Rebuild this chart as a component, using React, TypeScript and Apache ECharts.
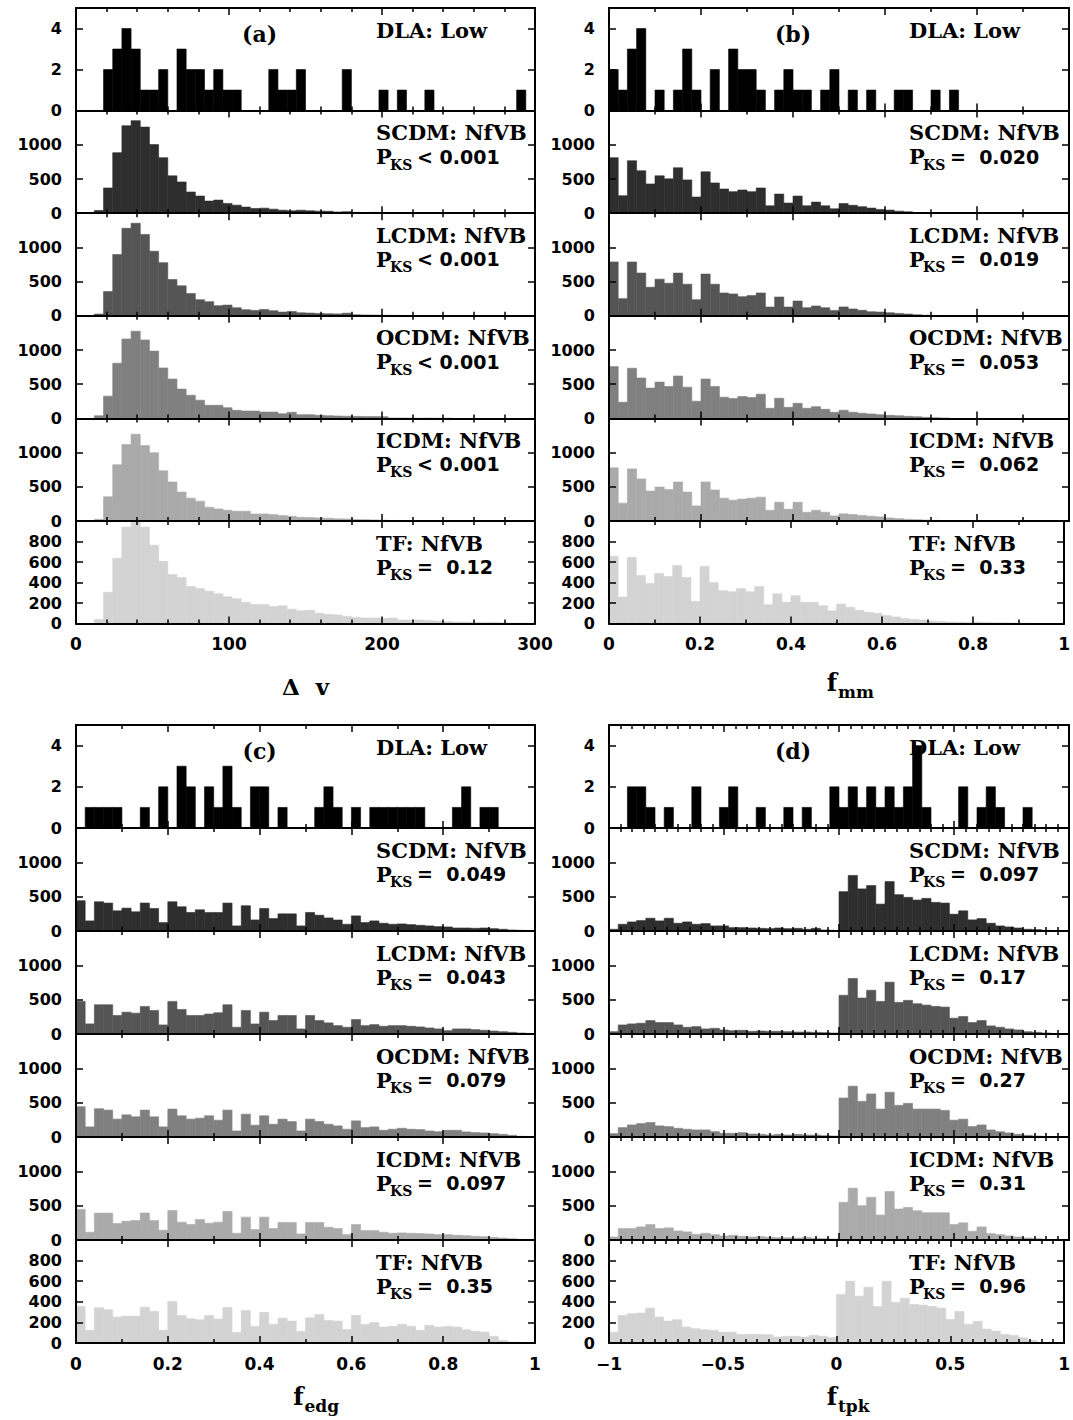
import React, { useEffect, useRef } from "react";
import * as echarts from "echarts";

// ---------- labels & styling lists ----------
const modelNames = ["DLA: Low", "SCDM: NfVB", "LCDM: NfVB", "OCDM: NfVB", "ICDM: NfVB", "TF: NfVB"];
const fillColors = ["#000000", "#2e2e2e", "#555555", "#808080", "#aaaaaa", "#d3d3d3"];
const yMaxes = [5, 1500, 1500, 1500, 1500, 1000];
const yIntervals = [2, 500, 500, 500, 500, 200];

// ---------- panel (a): Delta v, 50 bins of 6 km/s over 0..300 ----------
const dvDLA = [0,0,0,2,3,4,3,1,1,2, 0,3,2,2,1,2,1,1,0,0, 0,2,1,1,2,0,0,0,0,2, 0,0,0,1,0,1,0,0,1,0, 0,0,0,0,0,0,0,0,1,0];
const dvSCDM = [0,0,40,369,885,1279,1353,1259,1003,812, 546,457,310,251,177,192,143,118,89,69, 74,59,44,34,44,35,30,28,18,22, 12,10,12,6,5,4,3,3,2,2, 1,1,1,0,0,0,0,0,0,0];
const dvLCDM = [0,0,25,354,895,1279,1353,1190,944,777, 531,438,325,236,207,148,157,118,89,79, 93,74,54,64,44,40,35,30,28,38, 15,12,10,8,6,5,4,3,2,2, 1,1,0,0,0,0,0,0,0,0];
const dvOCDM = [0,0,39,325,807,1161,1274,1146,984,738, 576,428,339,266,192,192,157,118,108,108, 93,93,69,89,54,55,45,40,35,32, 30,28,26,25,5,4,3,2,2,1, 1,0,0,0,0,0,0,0,0,0];
const dvICDM = [0,0,25,354,821,1117,1269,1102,999,733, 571,423,334,290,202,177,157,143,143,103, 103,93,79,69,54,50,45,40,32,30, 22,20,16,12,8,6,5,4,3,2, 2,1,1,0,0,0,0,0,0,0];
const dvTF = [0,0,39,305,636,941,997,941,764,607, 479,449,361,341,315,292,262,243,207,187, 187,167,174,141,125,130,100,90,85,70, 60,55,55,50,55,35,35,35,30,25, 20,15,15,10,10,12,8,5,5,3];
const dvPKS = ["< 0.001", "< 0.001", "< 0.001", "< 0.001", "=  0.12"];

// ---------- panel (b): f_mm, 50 bins of 0.02 over 0..1 ----------
const mmDLA = [2,1,3,4,0,1,0,1,3,1, 0,2,0,3,2,2,1,0,1,2, 1,1,0,1,2,0,1,0,1,0, 0,1,1,0,0,1,0,1,0,0, 0,0,0,0,0,0,0,0,0,0];
const mmSCDM = [812,256,767,620,428,546,502,664,487,236, 605,443,354,315,339,315,369,108,280,148, 251,108,162,108,64,140,115,95,75,55, 45,30,20,10,5,3,0,0,0,0, 0,0,0,0,0,0,0,0,0,0];
const mmLCDM = [787,251,787,625,418,536,477,625,462,236, 610,462,334,320,280,295,334,128,275,128, 216,118,143,118,79,130,100,80,60,55, 45,35,25,15,8,5,3,0,0,0, 0,0,0,0,0,0,0,0,0,0];
const mmOCDM = [757,236,733,590,443,531,467,620,457,251, 576,467,310,290,320,305,354,148,295,162, 221,148,172,133,89,120,90,75,65,55, 45,40,30,25,15,10,5,0,0,0, 0,0,0,0,0,0,0,0,0,0];
const mmICDM = [777,261,762,615,438,497,462,571,423,221, 571,453,334,305,320,334,349,157,275,172, 275,128,157,128,74,105,95,80,70,60, 45,35,25,20,15,10,5,0,0,0, 0,0,0,0,0,0,0,0,0,0];
const mmTF = [656,259,646,469,390,489,459,567,449,216, 557,400,321,311,341,311,361,184,292,207, 272,207,207,174,125,190,160,130,110,100, 80,65,50,40,35,25,20,15,12,10, 15,10,8,8,5,5,3,2,2,0];
const mmPKS = ["=  0.020", "=  0.019", "=  0.053", "=  0.062", "=  0.33"];

// ---------- panel (c): f_edg, 50 bins of 0.02 over 0..1 ----------
const edgDLA = [0,1,1,1,1,0,0,1,0,2, 0,3,2,0,2,1,3,1,0,2, 2,0,1,0,0,0,1,2,1,0, 1,0,1,1,1,1,1,1,0,0, 0,1,2,0,1,1,0,0,0,0];
const edgSCDM = [441,147,426,407,294,333,279,407,328,123, 426,353,270,309,270,270,407,74,368,162, 328,181,250,250,74,270,230,190,160,98, 220,123,147,113,98,103,93,83,74,64, 59,44,44,39,44,34,25,15,10,5];
const edgLCDM = [475,147,426,426,270,318,304,402,343,132, 475,358,270,270,290,309,426,98,343,147, 318,196,270,270,74,270,196,162,122,98, 211,122,137,113,122,122,113,103,88,74, 49,74,74,64,54,44,34,25,15,5];
const edgOCDM = [441,147,412,392,260,323,294,392,294,147, 407,309,260,274,309,245,392,88,333,172, 309,186,260,225,88,260,225,186,162,113, 235,137,147,98,113,127,113,108,88,78, 98,98,74,64,59,49,39,25,10,5];
const edgICDM = [446,113,392,392,240,274,284,392,284,142, 431,260,225,299,245,260,417,98,333,152, 333,167,255,255,88,255,255,186,167,78, 225,137,137,113,98,103,98,93,88,78, 78,69,64,54,49,39,29,20,10,5];
const edgTF = [355,123,342,323,252,261,261,348,306,123, 403,268,235,226,268,232,345,103,316,161, 297,181,242,213,113,245,277,219,213,132, 268,181,200,155,161,181,161,123,171,155, 161,155,129,113,106,65,26,10,6,3];
const edgPKS = ["=  0.049", "=  0.043", "=  0.079", "=  0.097", "=  0.35"];

// ---------- panel (d): f_tpk, 50 bins of 0.04 over -1..1 ----------
const tpkDLA = [0,0,2,2,1,0,1,0,0,2, 0,0,1,2,0,0,1,0,0,1, 0,1,0,0,2,1,2,1,2,1, 2,1,2,4,1,0,0,0,2,0, 1,2,1,0,0,1,0,0,0,0];
const tpkSCDM = [25,98,132,152,186,147,186,113,132,98, 108,74,74,49,49,44,39,34,44,34, 39,25,39,15,10,573,809,613,662,392, 720,529,490,451,475,417,407,245,294,162, 181,113,74,59,44,25,20,10,5,0];
const tpkLCDM = [34,132,147,157,196,167,167,132,98,108, 74,83,59,49,54,39,44,39,39,34, 29,29,25,20,15,564,809,524,637,475, 755,461,490,441,421,402,392,230,255,167, 196,118,98,74,59,34,25,15,5,0];
const tpkOCDM = [49,137,176,196,211,162,152,127,113,103, 103,78,54,54,64,44,39,29,39,29, 39,29,29,20,15,568,740,519,627,407, 652,461,490,407,407,407,387,245,260,152, 176,103,78,59,39,25,15,5,0,0];
const tpkICDM = [44,167,167,191,225,167,176,132,118,83, 98,78,59,69,54,44,49,39,34,34, 29,39,25,20,15,549,755,500,622,363, 706,451,475,426,397,397,397,225,250,127, 191,93,78,59,44,29,20,10,5,0];
const tpkTF = [103,268,284,290,339,252,213,226,155,139, 129,123,106,106,84,84,84,81,58,65, 65,58,74,65,52,471,600,455,542,355, 600,394,435,374,368,355,339,229,306,181, 210,135,116,84,74,52,26,6,3,3];
const tpkPKS = ["=  0.097", "=  0.17", "=  0.27", "=  0.31", "=  0.96"];

// ---------- panel definitions ----------
const panels = [
  { tag: "(a)", left: 76, top: 8, width: 459, subH: 102.6, xMin: 0, xMax: 300, xInterval: 100, minorSplit: 5, binLo: 0, binW: 6,
    nameMain: "\u0394  v", nameSub: "", nameY: 686,
    series: [dvDLA, dvSCDM, dvLCDM, dvOCDM, dvICDM, dvTF], pks: dvPKS },
  { tag: "(b)", left: 609, top: 8, width: 460, subH: 102.6, xMin: 0, xMax: 1, xInterval: 0.2, minorSplit: 2, binLo: 0, binW: 0.02,
    nameMain: "f", nameSub: "mm", nameY: 682,
    series: [mmDLA, mmSCDM, mmLCDM, mmOCDM, mmICDM, mmTF], pks: mmPKS },
  { tag: "(c)", left: 76, top: 725, width: 459, subH: 103, xMin: 0, xMax: 1, xInterval: 0.2, minorSplit: 2, binLo: 0, binW: 0.02,
    nameMain: "f", nameSub: "edg", nameY: 1396,
    series: [edgDLA, edgSCDM, edgLCDM, edgOCDM, edgICDM, edgTF], pks: edgPKS },
  { tag: "(d)", left: 609, top: 725, width: 460, subH: 103, xMin: -1, xMax: 1, xInterval: 0.5, minorSplit: 10, binLo: -1, binW: 0.04,
    nameMain: "f", nameSub: "tpk", nameY: 1396,
    series: [tpkDLA, tpkSCDM, tpkLCDM, tpkOCDM, tpkICDM, tpkTF], pks: tpkPKS },
];

const SERIF = '"DejaVu Serif", serif';
const SANS = '"DejaVu Sans", sans-serif';

function fmtX(v: number) {
  const r = Math.round(v * 100) / 100;
  return r < 0 ? "\u2212" + String(Math.abs(r)) : String(r);
}

function txt(x: number, y: number, text: string, size: number, family: string, align = "left", vAlign = "middle") {
  return {
    type: "text",
    x,
    y,
    z: 100,
    silent: true,
    style: { text, fill: "#000", fontFamily: family, fontWeight: "bold", fontSize: size, align, verticalAlign: vAlign },
  };
}

function buildOption() {
  const grids: any[] = [];
  const xAxes: any[] = [];
  const yAxes: any[] = [];
  const series: any[] = [];
  const graphics: any[] = [];

  panels.forEach((p, pi) => {
    const cx = p.left + p.width / 2;
    graphics.push(txt(p.left + p.width * 0.4, p.top + 26, p.tag, 22, SERIF, "center"));
    if (p.nameSub) {
      graphics.push(txt(cx - 7, p.nameY, p.nameMain, 24, SERIF, "center"));
      graphics.push(txt(cx - 1, p.nameY + 10, p.nameSub, 17, SERIF, "left"));
    } else {
      graphics.push(txt(cx, p.nameY, p.nameMain, 23, SERIF, "center"));
    }

    for (let s = 0; s < 6; s++) {
      const g = pi * 6 + s;
      const top = p.top + s * p.subH;
      const isBottom = s === 5;
      grids.push({ left: p.left, top, width: p.width, height: p.subH });

      const lineStyle = { color: "#000", width: 2 };
      const tickStyle = { color: "#000", width: 1.5 };
      const xBase: any = {
        gridIndex: g, type: "value", min: p.xMin, max: p.xMax, interval: p.xInterval,
        splitLine: { show: false },
        axisLine: { show: true, onZero: false, lineStyle },
        axisTick: { show: true, inside: true, length: 7, lineStyle: tickStyle },
        minorTick: { show: true, splitNumber: p.minorSplit, length: 4, lineStyle: tickStyle },
        z: 5,
      };
      xAxes.push({
        ...xBase,
        position: "bottom",
        axisLabel: isBottom
          ? { show: true, margin: 12, color: "#000", fontFamily: SANS, fontWeight: "bold", fontSize: 17, formatter: fmtX }
          : { show: false },
      });
      xAxes.push({ ...xBase, position: "top", axisLabel: { show: false } });

      const yBase: any = {
        gridIndex: g, type: "value", min: 0, max: yMaxes[s], interval: yIntervals[s],
        splitLine: { show: false },
        axisLine: { show: true, onZero: false, lineStyle },
        axisTick: { show: true, inside: true, length: 7, lineStyle: tickStyle },
        z: 5,
      };
      yAxes.push({
        ...yBase,
        position: "left",
        axisLabel: {
          show: true, margin: 14, showMaxLabel: false, color: "#000", fontFamily: SANS, fontWeight: "bold", fontSize: 16,
          formatter: (v: number) => String(v),
        },
      });
      yAxes.push({ ...yBase, position: "right", axisLabel: { show: false } });

      const color = fillColors[s];
      const vals = p.series[s];
      series.push({
        type: "custom",
        xAxisIndex: 2 * g,
        yAxisIndex: 2 * g,
        clip: true,
        encode: { x: [0, 1], y: 2 },
        data: vals.map((v: number, i: number) => [p.binLo + i * p.binW, p.binLo + (i + 1) * p.binW, v]),
        renderItem: (params: any, api: any) => {
          const v = api.value(2);
          if (!v) return { type: "group", children: [] };
          const a = api.coord([api.value(0), v]);
          const b = api.coord([api.value(1), 0]);
          return {
            type: "rect",
            shape: { x: a[0], y: a[1], width: b[0] - a[0], height: b[1] - a[1] },
            style: { fill: color, stroke: color, lineWidth: 0.6 },
          };
        },
      });

      // model label and KS probability
      const lx = p.left + 300;
      graphics.push(txt(lx, top + 22, modelNames[s], 21, SERIF));
      if (s > 0) {
        graphics.push(txt(lx, top + 46, "P", 21, SERIF));
        graphics.push(txt(lx + 14, top + 54, "KS", 14, SERIF));
        graphics.push(txt(lx + 41, top + 46, p.pks[s - 1], 19, SANS));
      }
    }
  });

  return {
    animation: false,
    backgroundColor: "#ffffff",
    grid: grids,
    xAxis: xAxes,
    yAxis: yAxes,
    series,
    graphic: graphics,
  };
}

export default function App() {
  const ref = useRef<HTMLDivElement>(null);
  useEffect(() => {
    if (!ref.current) return;
    const chart = echarts.init(ref.current, undefined, { renderer: "svg" });
    chart.setOption(buildOption() as any);
    return () => chart.dispose();
  }, []);
  return <div ref={ref} style={{ position: "absolute", left: 0, top: 0, width: 1073, height: 1420, background: "#fff" }} />;
}
